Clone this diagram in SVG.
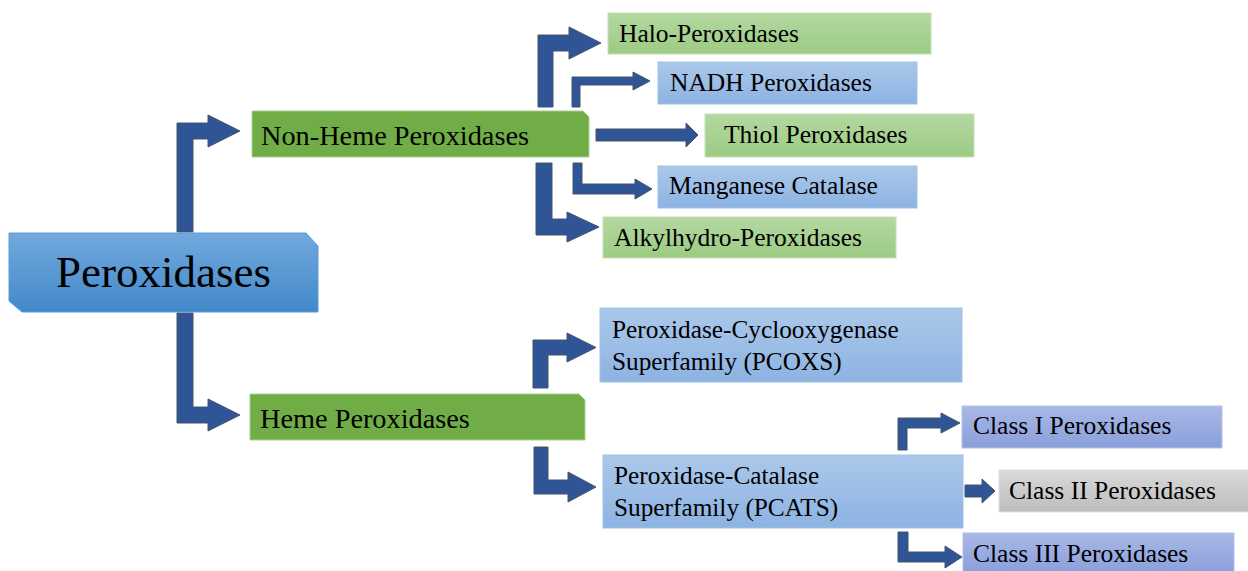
<svg xmlns="http://www.w3.org/2000/svg" width="1248" height="571" viewBox="0 0 1248 571">
<defs>
<linearGradient id="gMain" x1="0" y1="0" x2="0" y2="1"><stop offset="0" stop-color="#72a9de"/><stop offset="1" stop-color="#4289c9"/></linearGradient>
<linearGradient id="gGreen" x1="0" y1="0" x2="0" y2="1"><stop offset="0" stop-color="#b4d8a1"/><stop offset="1" stop-color="#9ccb83"/></linearGradient>
<linearGradient id="gBlue" x1="0" y1="0" x2="0" y2="1"><stop offset="0" stop-color="#abc8ea"/><stop offset="1" stop-color="#8db3e2"/></linearGradient>
<linearGradient id="gPurple" x1="0" y1="0" x2="0" y2="1"><stop offset="0" stop-color="#a9b8e6"/><stop offset="1" stop-color="#8a9fdb"/></linearGradient>
<linearGradient id="gGray" x1="0" y1="0" x2="0" y2="1"><stop offset="0" stop-color="#d9d9d9"/><stop offset="1" stop-color="#bdbdbd"/></linearGradient>
</defs>
<style>
text{font-family:"Liberation Serif","Times New Roman",serif;fill:#000}
.t{font-size:25.5px}
.t2{font-size:25.3px}
.m{font-size:28.3px}
.arr{fill:#2f5597;stroke:#44546a;stroke-width:1;stroke-linejoin:miter}
.green{fill:url(#gGreen);stroke:#c5e0b4;stroke-width:1}
.blue{fill:url(#gBlue);stroke:#9dc3e6;stroke-width:1}
.purple{fill:url(#gPurple);stroke:#b4c0ea;stroke-width:1}
.gray{fill:url(#gGray);stroke:#e0e0e0;stroke-width:1}
.dg{fill:#70ad47;stroke:#a9d18e;stroke-width:1}
</style>
<g id="connectors">
<path class="arr" d="M177,232 L177,123 L208,123 L208,115 L240,131 L208,147 L208,139 L193,139 L193,232 Z"/>
<path class="arr" d="M177,313 L177,423 L208,423 L208,431 L240,415 L208,399 L208,407 L193,407 L193,313 Z"/>
<path class="arr" d="M538,107 L538,35 L569,35 L569,27 L601,43 L569,59 L569,51 L553,51 L553,107 Z"/>
<path class="arr" d="M572,107 L572,77 L633,77 L633,72 L650,81 L633,90 L633,85 L580,85 L580,107 Z"/>
<path class="arr" d="M596,129 L686,129 L686,123 L698,135 L686,147 L686,141 L596,141 Z"/>
<path class="arr" d="M573,163 L573,194 L635,194 L635,199 L652,189 L635,179 L635,184 L582,184 L582,163 Z"/>
<path class="arr" d="M536,163 L536,235 L567,235 L567,242 L599,227 L567,212 L567,219 L552,219 L552,163 Z"/>
<path class="arr" d="M533,388 L533,340 L567,340 L567,333 L596,347.5 L567,362 L567,355 L548,355 L548,388 Z"/>
<path class="arr" d="M534,447 L534,494 L568,494 L568,502 L596,487 L568,472 L568,480 L548,480 L548,447 Z"/>
<path class="arr" d="M898,450 L898,418 L941,418 L941,413 L960,423 L941,433 L941,428 L907,428 L907,450 Z"/>
<path class="arr" d="M965,485 L982,485 L982,479 L995,491 L982,503 L982,497 L965,497 Z"/>
<path class="arr" d="M898,532 L898,562 L945,562 L945,568 L962,557 L945,546 L945,552 L908,552 L908,532 Z"/>
</g>
<g id="node-peroxidases">
<path d="M9,233 L306,233 L318,246 L318,312 L22,312 L9,301 Z" fill="url(#gMain)" stroke="#5b9bd5" stroke-width="1"/>
<text x="163.5" y="287" font-size="45" text-anchor="middle">Peroxidases</text>
</g>
<g id="node-nonheme">
<path d="M252,111 L583,111 L589,117 L589,157 L252,157 Z" class="dg"/>
<text class="m" x="261" y="145">Non-Heme Peroxidases</text>
</g>
<g id="node-heme">
<path d="M250,394 L579,394 L585,400 L585,440 L250,440 Z" class="dg"/>
<text class="m" x="260" y="428">Heme Peroxidases</text>
</g>
<g id="node-halo">
<rect class="green" x="608" y="13" width="323" height="41"/>
<text class="t" x="619" y="42">Halo-Peroxidases</text>
</g>
<g id="node-nadh">
<rect class="blue" x="658" y="62" width="259" height="42"/>
<text class="t" x="670" y="91">NADH Peroxidases</text>
</g>
<g id="node-thiol">
<rect class="green" x="705" y="114" width="269" height="43"/>
<text class="t" x="724" y="143">Thiol Peroxidases</text>
</g>
<g id="node-manganese">
<rect class="blue" x="658" y="166" width="259" height="42"/>
<text class="t" x="669" y="194">Manganese Catalase</text>
</g>
<g id="node-alkylhydro">
<rect class="green" x="603" y="217" width="293" height="41"/>
<text class="t" x="614" y="246">Alkylhydro-Peroxidases</text>
</g>
<g id="node-pcoxs">
<rect class="blue" x="600" y="308" width="362" height="74"/>
<text class="t2" x="612" y="338">Peroxidase-Cyclooxygenase</text>
<text class="t2" x="612" y="370">Superfamily (PCOXS)</text>
</g>
<g id="node-pcats">
<rect class="blue" x="603" y="455" width="360" height="73"/>
<text class="t2" x="614" y="484">Peroxidase-Catalase</text>
<text class="t2" x="614" y="516">Superfamily (PCATS)</text>
</g>
<g id="node-class1">
<rect class="purple" x="962" y="406" width="260" height="42"/>
<text class="t" x="973" y="434">Class I Peroxidases</text>
</g>
<g id="node-class2">
<rect class="gray" x="999" y="470" width="250" height="42"/>
<text class="t" x="1009" y="499">Class II Peroxidases</text>
</g>
<g id="node-class3">
<rect class="purple" x="963" y="533" width="271" height="40"/>
<text class="t" x="973" y="562">Class III Peroxidases</text>
</g>
</svg>
